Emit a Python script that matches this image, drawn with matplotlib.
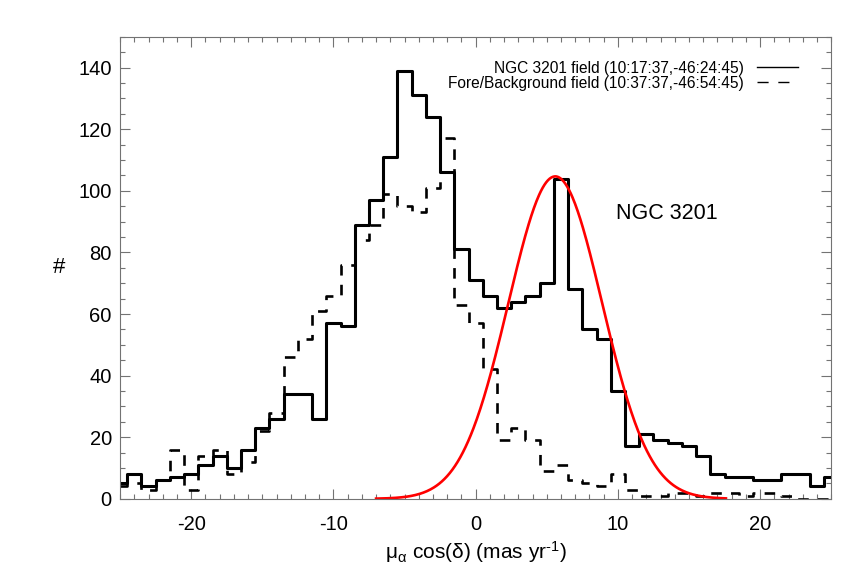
import numpy as np
import matplotlib
matplotlib.use('Agg')
import matplotlib.pyplot as plt
from matplotlib.ticker import MultipleLocator
from matplotlib.lines import Line2D

plt.rcParams['font.family'] = ['Liberation Sans', 'DejaVu Sans']
plt.rcParams['mathtext.fontset'] = 'custom'
plt.rcParams['mathtext.rm'] = 'Liberation Sans'
plt.rcParams['mathtext.it'] = 'Liberation Sans'
plt.rcParams['mathtext.default'] = 'regular'
plt.rcParams['axes.unicode_minus'] = False

# Centros de los bins (mas/yr)
pm_bins = np.arange(-25, 26)

# Campo de NGC 3201 (linea continua)
cluster_counts = [5, 8, 4, 6, 7, 8, 11, 14, 10, 16,
                  23, 26, 34, 34, 26, 57, 56, 89, 97, 111,
                  139, 131, 124, 106, 81, 71, 66, 62, 64, 66,
                  70, 104, 68, 55, 52, 35, 17, 21, 19, 18,
                  17, 14, 8, 7, 7, 6, 6, 8, 8, 4, 7]

# Campo de comparacion (linea discontinua)
field_counts = [4, 5, 3, 6, 16, 3, 14, 16, 8, 12,
                22, 28, 46, 52, 61, 66, 76, 84, 89, 99,
                95, 93, 101, 117, 63, 57, 42, 19, 23, 19,
                9, 11, 6, 5, 4, 8, 3, 1, 1, 2,
                2, 1, 2, 2, 1, 2, 2, 1, 0, 0, 0]

# Ajuste gaussiano del cumulo
gauss_amp = 104.7
gauss_mu = 5.6
gauss_sigma = 3.3
gauss_range = (-7.0, 17.6)

label_cluster = 'NGC 3201 field (10:17:37,-46:24:45)'
label_field = 'Fore/Background field (10:37:37,-46:54:45)'

fig = plt.figure(figsize=(8.64, 5.76), dpi=100)
ax = fig.add_axes([0.139, 0.134, 0.823, 0.802])

ax.step(pm_bins, cluster_counts, where='mid', color='black', lw=2.2)
ax.step(pm_bins, field_counts, where='mid', color='black', lw=1.9,
        linestyle=(0, (4, 3.5)))

xg = np.linspace(gauss_range[0], gauss_range[1], 400)
yg = gauss_amp * np.exp(-0.5 * ((xg - gauss_mu) / gauss_sigma) ** 2)
ax.plot(xg, yg, color='red', lw=1.9)

ax.text(9.9, 92.7, 'NGC 3201', fontsize=15.5, va='center', ha='left')

ax.set_xlim(-25, 25)
ax.set_ylim(0, 150)
ax.xaxis.set_major_locator(MultipleLocator(10))
ax.xaxis.set_minor_locator(MultipleLocator(1))
ax.yaxis.set_major_locator(MultipleLocator(20))
ax.yaxis.set_minor_locator(MultipleLocator(5))
ax.tick_params(which='both', direction='in', top=True, right=True,
               color='0.45', labelsize=14.5)
ax.tick_params(which='major', length=7, width=0.8)
ax.tick_params(which='minor', length=3.5, width=0.8)
ax.tick_params(axis='x', pad=12)
ax.tick_params(axis='y', pad=6)
for s in ax.spines.values():
    s.set_color('0.45')
    s.set_linewidth(0.8)

ax.set_xlabel('$μ_α$ cos(δ) (mas yr$^{\u20101}$)', fontsize=15, labelpad=3)
ax.set_ylabel('#', fontsize=16, rotation=0, labelpad=14, va='center')

# Leyenda con lineas finas y texto a la izquierda
handles = [Line2D([], [], color='black', lw=1.0),
           Line2D([], [], color='black', lw=1.0, linestyle=(0, (8, 7)))]
ax.legend(handles, [label_cluster, label_field], loc='upper right',
          bbox_to_anchor=(0.962, 0.962), frameon=False, markerfirst=False,
          fontsize=11.2, handlelength=2.6, handletextpad=0.9,
          labelspacing=0.0, borderaxespad=0)

fig.savefig('out.png', dpi=100)
